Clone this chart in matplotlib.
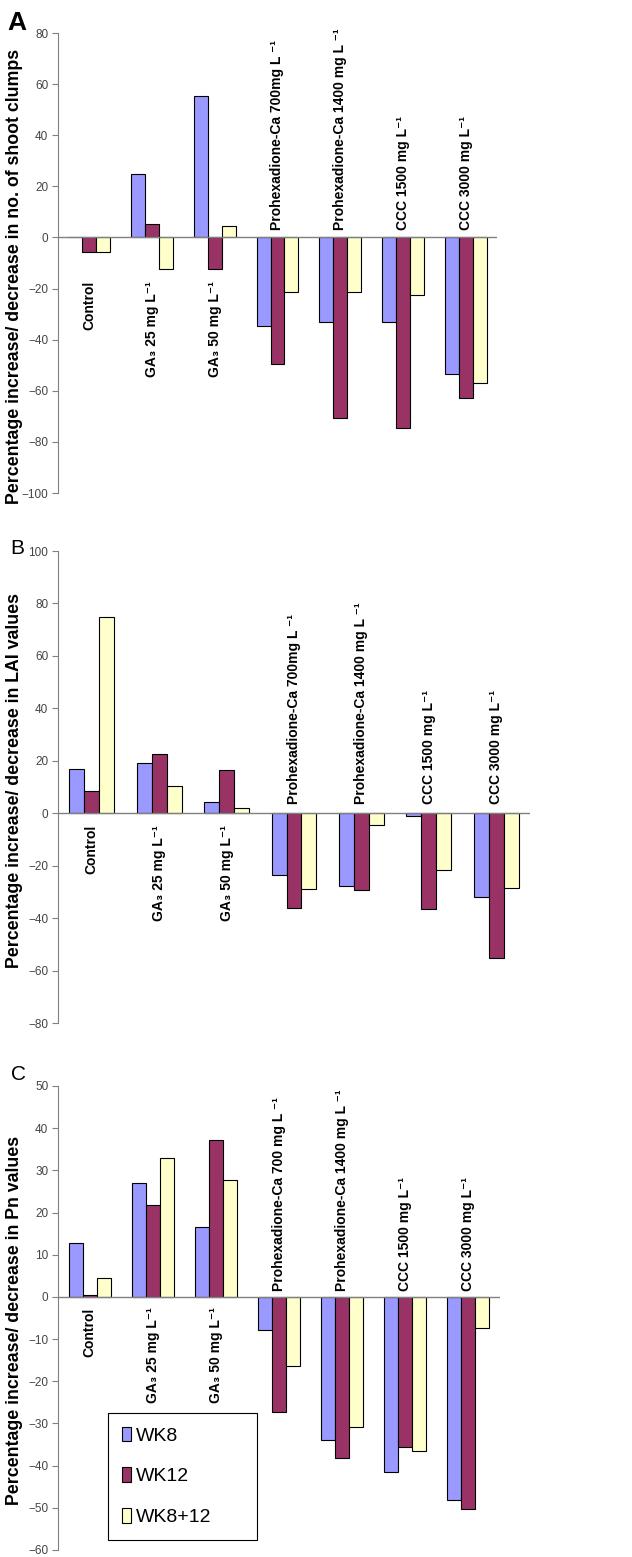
import numpy as np
import matplotlib
matplotlib.use("Agg")
from matplotlib import pyplot as plt

plt.rcParams['font.family'] = ['Liberation Sans', 'DejaVu Sans']

series = ['WK8', 'WK12', 'WK8+12']
colors = ['#9999FF', '#993366', '#FFFFCC']

labels_a = ['Control', 'GA\u2083 25 mg L\u207b\u00b9', 'GA\u2083 50 mg L\u207b\u00b9',
            'Prohexadione-Ca 700mg L \u207b\u00b9', 'Prohexadione-Ca 1400 mg L \u207b\u00b9',
            'CCC 1500 mg L\u207b\u00b9', 'CCC 3000 mg L\u207b\u00b9']
labels_b = labels_a
labels_c = ['Control', 'GA\u2083 25 mg L\u207b\u00b9', 'GA\u2083 50 mg L\u207b\u00b9',
            'Prohexadione-Ca 700 mg L \u207b\u00b9', 'Prohexadione-Ca 1400 mg L \u207b\u00b9',
            'CCC 1500 mg L\u207b\u00b9', 'CCC 3000 mg L\u207b\u00b9']

# A: shoot clumps
a_wk8 = [0, 24.7, 55.2, -34.8, -33.0, -33.0, -53.3]
a_wk12 = [-5.7, 5.3, -12.4, -49.4, -70.7, -74.4, -62.9]
a_wk812 = [-5.7, -12.4, 4.5, -21.5, -21.5, -22.4, -56.8]

# B: LAI
b_wk8 = [16.9, 19.0, 4.2, -23.4, -27.7, -1.2, -32.0]
b_wk12 = [8.4, 22.4, 16.5, -36.2, -29.4, -36.6, -55.4]
b_wk812 = [75.0, 10.3, 2.0, -28.8, -4.6, -21.7, -28.6]

# C: Pn
c_wk8 = [12.8, 27.0, 16.6, -7.9, -33.9, -41.4, -48.2]
c_wk12 = [0.5, 21.7, 37.1, -27.3, -38.2, -35.5, -50.3]
c_wk812 = [4.4, 32.9, 27.8, -16.3, -30.9, -36.5, -7.4]

W, H = 632, 1557
fig = plt.figure(figsize=(W / 100, H / 100), dpi=100)

def px_axes(x0, x1, ytop, ybot):
    return fig.add_axes([x0 / W, 1 - ybot / H, (x1 - x0) / W, (ybot - ytop) / H])

def panel(ax, vals, labels, ylim, step, below_y, above_y, ylabel, ylab_y, letter, let_xy, let_size, let_w):
    x = np.arange(len(labels))
    w = 1 / 4.5
    for i, (v, c, s) in enumerate(zip(vals, colors, series)):
        ax.bar(x + (i - 1) * w, v, width=w, color=c, edgecolor='black', linewidth=0.8, label=s, zorder=2)
    ax.axhline(0, color='#808080', linewidth=1.0, zorder=3)
    ax.set_xlim(-0.5, len(labels) - 0.5)
    ax.set_ylim(*ylim)
    ax.set_yticks(np.arange(ylim[0], ylim[1] + 1, step))
    ax.set_xticks([])
    for s in ['top', 'right', 'bottom']:
        ax.spines[s].set_visible(False)
    ax.spines['left'].set_color('#808080')
    ax.tick_params(axis='y', direction='out', length=4, color='#808080', labelsize=8.5,
                   labelcolor='#444444', pad=3)
    for i, lab in enumerate(labels):
        if i < 3:
            ax.text(i, below_y, lab, rotation=90, ha='center', va='top', fontsize=10, fontweight='bold')
        else:
            ax.text(i, above_y, lab, rotation=90, ha='center', va='bottom', fontsize=10, fontweight='bold')
    fig.text(15 / W, 1 - ylab_y / H, ylabel, rotation=90, ha='center', va='center',
             fontsize=12.8, fontweight='bold')
    fig.text(let_xy[0] / W, 1 - let_xy[1] / H, letter, ha='center', va='center',
             fontsize=let_size, fontweight=let_w)

axA = px_axes(58, 497, 33, 493)
panel(axA, [a_wk8, a_wk12, a_wk812], labels_a, (-100, 80), 20, -17, 3,
      'Percentage increase/ decrease in no. of shoot clumps', 276, 'A', (17, 23), 19, 'bold')

axB = px_axes(58, 530, 551, 1023)
panel(axB, [b_wk8, b_wk12, b_wk812], labels_b, (-80, 100), 20, -4.5, 3.5,
      'Percentage increase/ decrease in LAI values', 781, 'B', (17, 548), 15, 'normal')

axC = px_axes(58, 500, 1086, 1550)
panel(axC, [c_wk8, c_wk12, c_wk812], labels_c, (-60, 50), 10, -2.5, 1.5,
      'Percentage increase/ decrease in Pn values', 1320, 'C', (18, 1075), 15, 'normal')

leg = axC.legend(loc='upper left', bbox_to_anchor=((108 - 58) / 442, (1550 - 1413) / 464,
                                                   (257 - 108) / 442, 0.0),
                 mode='expand', fontsize=14, frameon=True, fancybox=False, framealpha=1,
                 edgecolor='black', handlelength=0.5, handleheight=0.8, handletextpad=0.25,
                 labelspacing=1.15, borderpad=0.7, borderaxespad=0)
leg.get_frame().set_linewidth(0.8)

fig.savefig('out.png', dpi=100)
